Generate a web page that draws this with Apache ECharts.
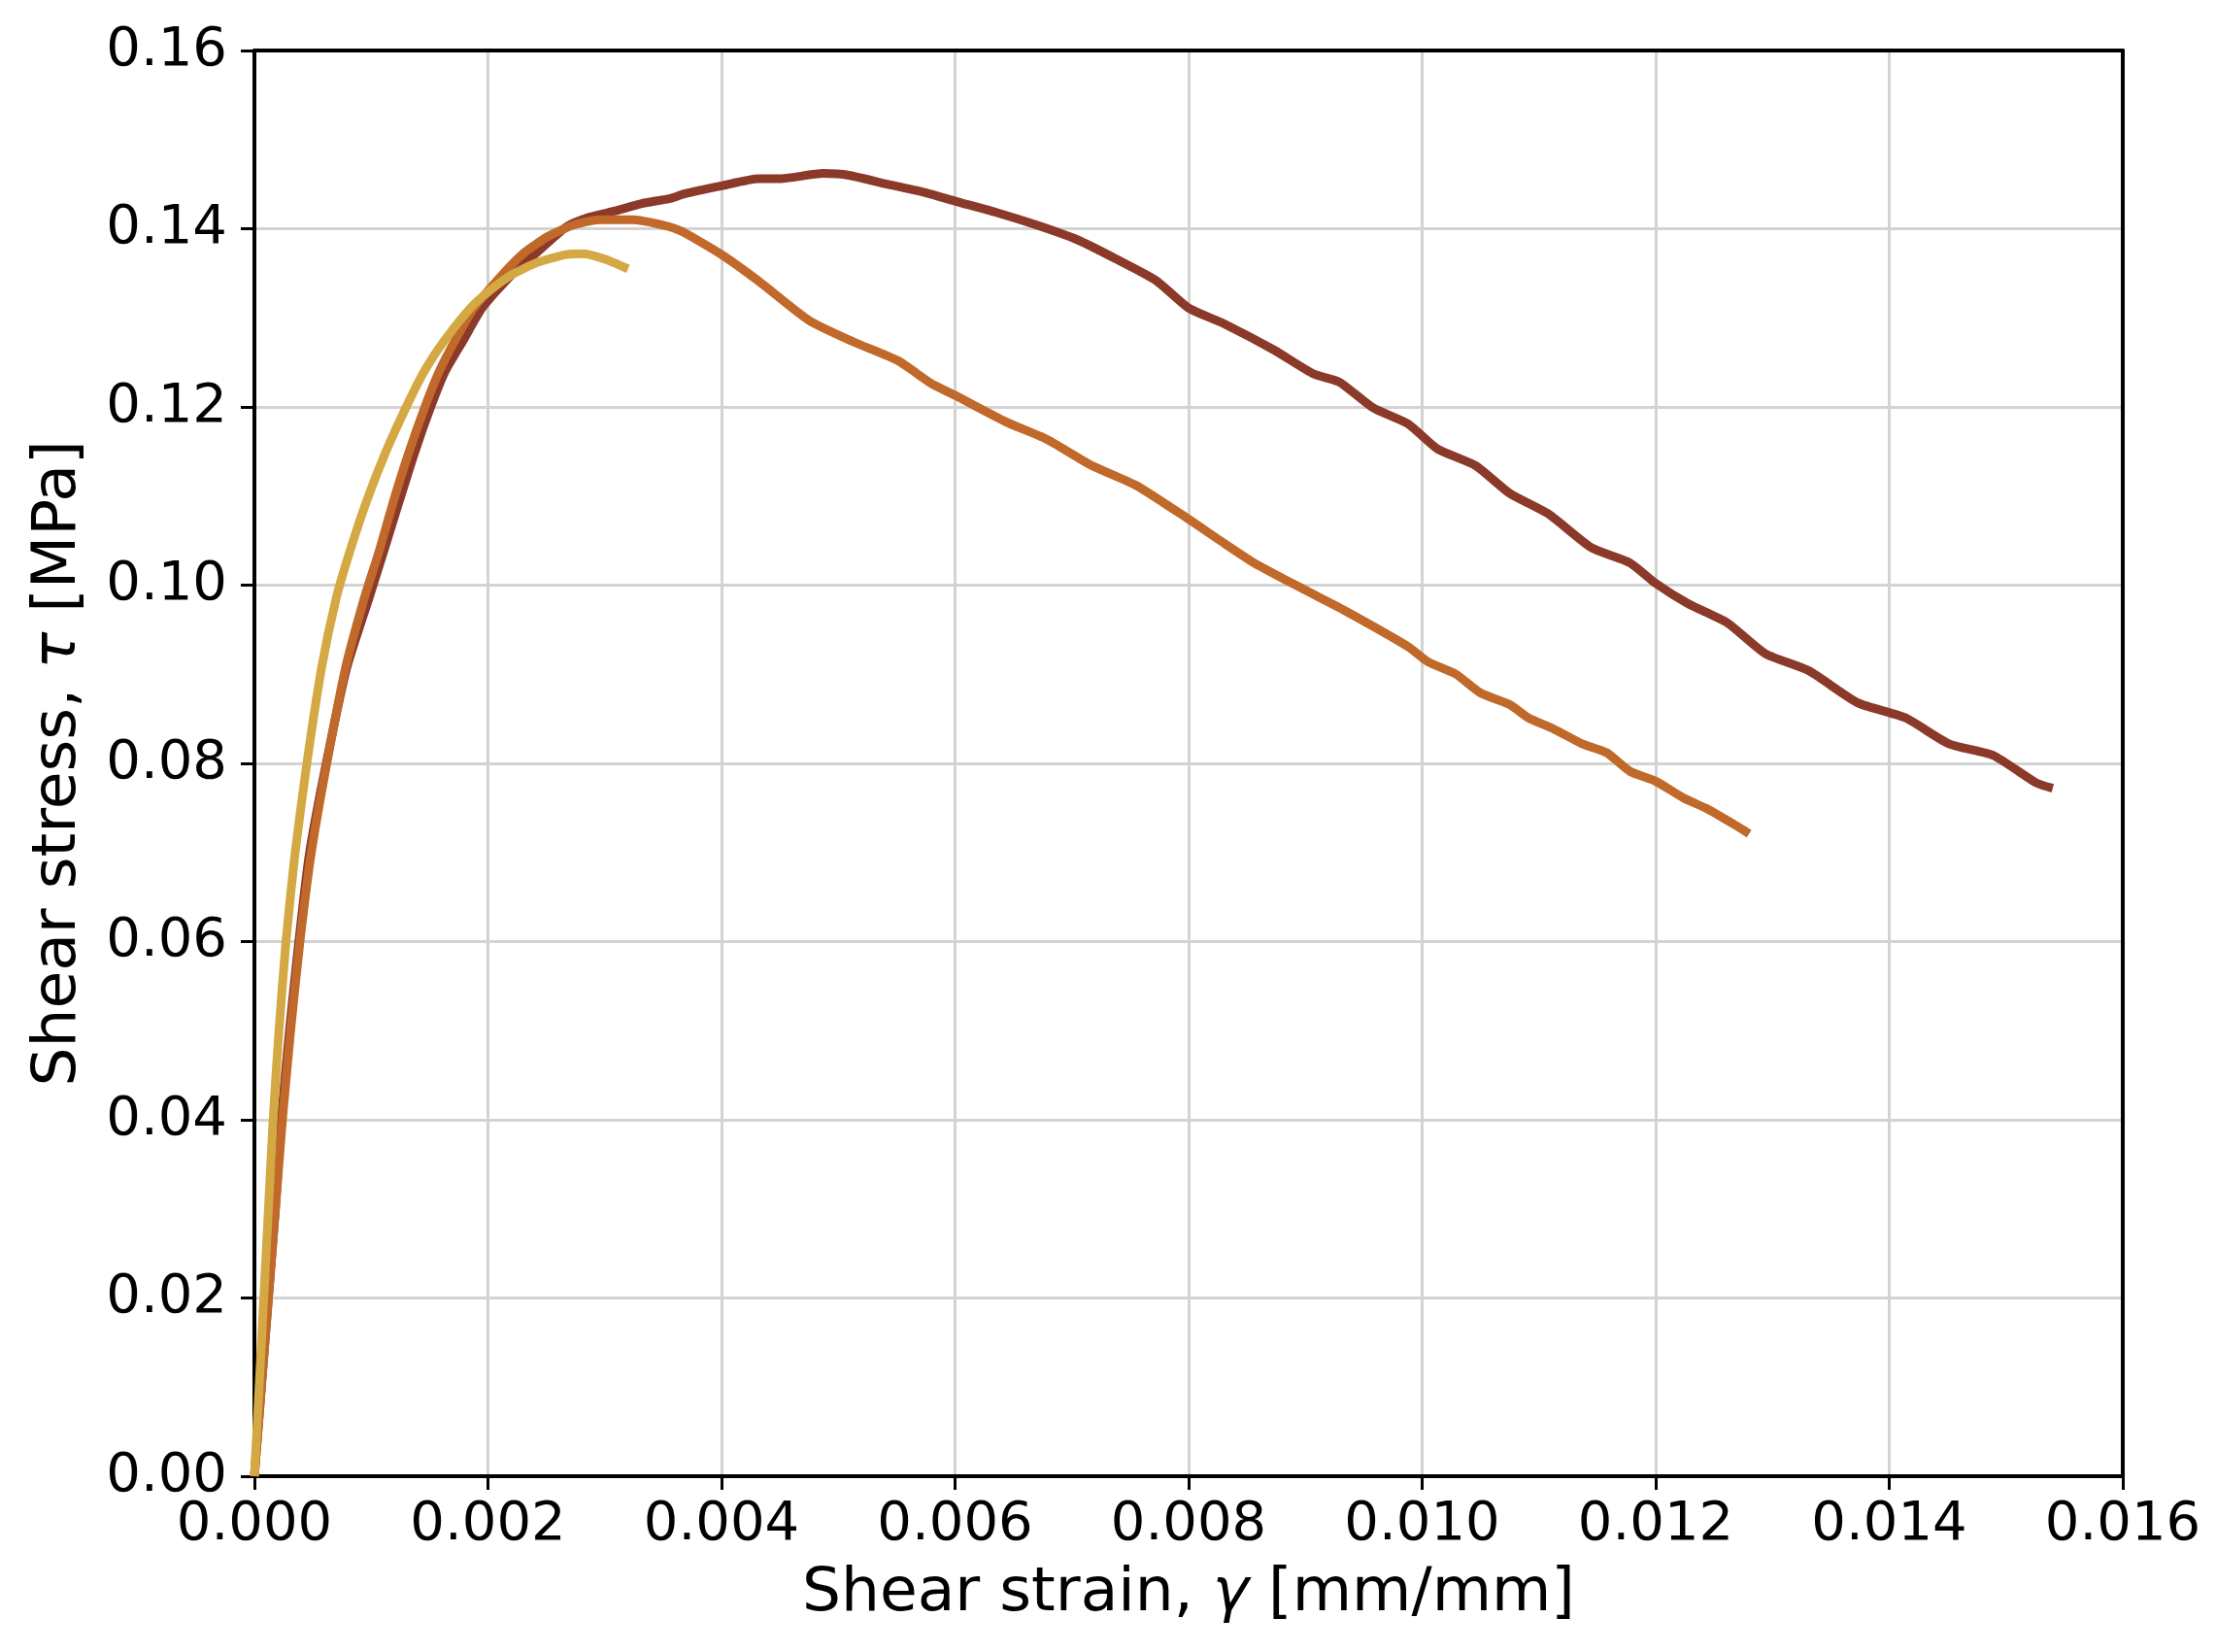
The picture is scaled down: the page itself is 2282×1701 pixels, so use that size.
<!DOCTYPE html>
<html lang="en" style="height: 100%">

<head>
  <meta charset="utf-8">
</head>

<body style="height: 100%; margin: 0; background: #fff">
  <div id="container" style="width: 2282px; height: 1701px;"></div>

  <script type="text/javascript" src="https://cdn.jsdelivr.net/npm/echarts@6/dist/echarts.min.js"></script>
  <script type="text/javascript">
    // 剪切应变 / 剪切应力
    const strainA = [0, 0.00006, 0.00012, 0.00018, 0.00023, 0.0003, 0.00038, 0.00047, 0.000615, 0.00079, 0.00098, 0.00111, 0.00124, 0.00137, 0.00151, 0.00163, 0.00179, 0.00195, 0.0022, 0.00245, 0.00267, 0.00287, 0.00309, 0.00331, 0.00356, 0.00368, 0.004, 0.00432, 0.00449, 0.00487, 0.00509, 0.00542, 0.00576, 0.006, 0.00636, 0.0067, 0.00704, 0.00738, 0.00772, 0.008, 0.00831, 0.00873, 0.00907, 0.00929, 0.00958, 0.00988, 0.01013, 0.01046, 0.01075, 0.01108, 0.01145, 0.01178, 0.012, 0.01228, 0.01261, 0.01294, 0.01331, 0.01373, 0.01414, 0.01451, 0.01489, 0.01526, 0.0154];
    const stressA = [0, 0.01, 0.02, 0.03, 0.04, 0.05, 0.06, 0.0698, 0.08, 0.0907, 0.0985, 0.1039, 0.1094, 0.1148, 0.12, 0.1239, 0.1275, 0.1311, 0.1348, 0.1377, 0.1402, 0.1413, 0.142, 0.1428, 0.1434, 0.1439, 0.1448, 0.1456, 0.1456, 0.1462, 0.146, 0.145, 0.144, 0.1431, 0.1418, 0.1404, 0.1388, 0.1366, 0.1342, 0.1311, 0.1293, 0.1264, 0.1237, 0.1228, 0.1199, 0.1181, 0.1153, 0.1134, 0.1103, 0.108, 0.1042, 0.1025, 0.1002, 0.0979, 0.0958, 0.0923, 0.0904, 0.0868, 0.0851, 0.0822, 0.0809, 0.0778, 0.0772];

    const strainB = [0, 0.00006, 0.00012, 0.00018, 0.00024, 0.00031, 0.00039, 0.000485, 0.00062, 0.00078, 0.00094, 0.00107, 0.00119, 0.00132, 0.00146, 0.00158, 0.00172, 0.00188, 0.00212, 0.00231, 0.00251, 0.00273, 0.00295, 0.00323, 0.0035, 0.00366, 0.004, 0.00432, 0.00475, 0.00513, 0.00551, 0.0058, 0.006, 0.00644, 0.00678, 0.00716, 0.00755, 0.008, 0.00827, 0.00856, 0.00899, 0.00933, 0.00988, 0.01005, 0.01029, 0.0105, 0.01075, 0.01091, 0.01112, 0.01137, 0.01158, 0.01178, 0.012, 0.01224, 0.01244, 0.01269, 0.0128];
    const stressB = [0, 0.01, 0.02, 0.03, 0.04, 0.05, 0.06, 0.0698, 0.08, 0.0907, 0.0985, 0.1039, 0.1094, 0.1148, 0.12, 0.1239, 0.1275, 0.1311, 0.1348, 0.1373, 0.1391, 0.1404, 0.141, 0.141, 0.1404, 0.1397, 0.1371, 0.1341, 0.1297, 0.1273, 0.1252, 0.1226, 0.1213, 0.1183, 0.1164, 0.1135, 0.1112, 0.1074, 0.105, 0.1025, 0.0995, 0.0972, 0.0931, 0.0914, 0.09, 0.0879, 0.0866, 0.0851, 0.0839, 0.0822, 0.0812, 0.0791, 0.078, 0.0761, 0.0749, 0.073, 0.0721];

    const strainC = [0, 0.00004, 0.00008, 0.00012, 0.00016, 0.00021, 0.00027, 0.000347, 0.000449, 0.000575, 0.0007, 0.00082, 0.00096, 0.00112, 0.0013, 0.00145, 0.00163, 0.00185, 0.00201, 0.0022, 0.00242, 0.00267, 0.00281, 0.003, 0.0032];
    const stressC = [0, 0.01, 0.02, 0.03, 0.04, 0.05, 0.06, 0.0698, 0.08, 0.0907, 0.0985, 0.1039, 0.1094, 0.1148, 0.12, 0.1239, 0.1275, 0.1311, 0.133, 0.1348, 0.1362, 0.1371, 0.1372, 0.1366, 0.1355];

    const colors = ['#8b3a2a', '#c0692a', '#d4a843'];

    var dom = document.getElementById('container');
    var myChart = echarts.init(dom, null, { renderer: 'canvas' });

    const zip = (xs, ys) => xs.map((x, i) => [x, ys[i]]);
    const fontFamily = '"DejaVu Sans", sans-serif';

    const seriesList = [[strainA, stressA], [strainB, stressB], [strainC, stressC]].map((item, index) => {
      return {
        type: 'line',
        data: zip(item[0], item[1]),
        showSymbol: false,
        smooth: 0.2,
        lineStyle: { color: colors[index], width: 9, cap: 'butt', join: 'round' },
        z: 3 + index
      }
    });

    // 上边、右边的框线 (onZero 关掉, 否则会被挪到 0 的位置)
    const frameAxis = {
      type: 'value',
      axisLine: { show: true, onZero: false, lineStyle: { color: '#000', width: 4 } },
      axisTick: { show: false },
      axisLabel: { show: false },
      splitLine: { show: false }
    };

    var option = {
      animation: false,
      backgroundColor: '#fff',
      grid: {
        left: 262,
        right: 96,
        top: 52,
        bottom: 181
      },
      xAxis: [{
        type: 'value',
        min: 0,
        max: 0.016,
        interval: 0.002,
        name: 'Shear strain, {i|γ} [mm/mm]',
        nameLocation: 'middle',
        nameGap: 90,
        nameTextStyle: {
          fontFamily: fontFamily, fontSize: 63, color: '#000',
          rich: { i: { fontFamily: fontFamily, fontSize: 63, fontStyle: 'italic', color: '#000' } }
        },
        axisLine: { show: true, onZero: false, lineStyle: { color: '#000', width: 4 } },
        axisTick: { show: true, length: 14, lineStyle: { color: '#000', width: 3 } },
        axisLabel: {
          margin: 22, fontSize: 56, fontFamily: fontFamily, color: '#000',
          formatter: v => v.toFixed(3)
        },
        splitLine: { show: true, lineStyle: { color: '#d3d3d3', width: 3 } }
      }, Object.assign({ position: 'top', min: 0, max: 0.016 }, frameAxis)],
      yAxis: [{
        type: 'value',
        min: 0,
        max: 0.16,
        interval: 0.02,
        name: 'Shear stress, {i|τ} [MPa]',
        nameLocation: 'middle',
        nameGap: 170,
        nameTextStyle: {
          fontFamily: fontFamily, fontSize: 63, color: '#000',
          rich: { i: { fontFamily: fontFamily, fontSize: 63, fontStyle: 'italic', color: '#000' } }
        },
        axisLine: { show: true, onZero: false, lineStyle: { color: '#000', width: 4 } },
        axisTick: { show: true, length: 14, lineStyle: { color: '#000', width: 3 } },
        axisLabel: {
          margin: 28, fontSize: 56, fontFamily: fontFamily, color: '#000',
          formatter: v => v.toFixed(2)
        },
        splitLine: { show: true, lineStyle: { color: '#d3d3d3', width: 3 } }
      }, Object.assign({ position: 'right', min: 0, max: 0.16 }, frameAxis)],
      series: seriesList
    };

    myChart.setOption(option);
    window.addEventListener('resize', myChart.resize);
  </script>
</body>

</html>
